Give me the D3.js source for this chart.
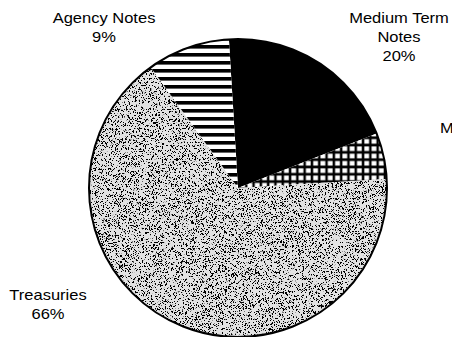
<!DOCTYPE html>
<html>
<head>
<meta charset="utf-8">
<script src="https://cdn.jsdelivr.net/npm/d3@7"></script>
<style>
  html, body { margin: 0; padding: 0; background: #fff; }
  svg { display: block; }
  text { font-family: "Liberation Sans", Arial, sans-serif; fill: #000; }
</style>
</head>
<body>
<svg id="chart" width="452" height="337"></svg>
<script>
// Portfolio composition by security type (percent of holdings)
const categories = ["Medium Term Notes", "M", "Treasuries", "Agency Notes"];
const shares = [20, 5, 66, 9];
const labelLines = [
  ["Medium Term", "Notes", "20%"],
  ["M"],
  ["Treasuries", "66%"],
  ["Agency Notes", "9%"]
];
const fills = ["solid", "grid", "grain", "stripes"];

const width = 452, height = 337;
const cx = 238, cy = 188, radius = 149;
const tilt = -3.5 * Math.PI / 180;

const svg = d3.select("#chart");
const defs = svg.append("defs");

// Cross-hatch: black grid with white squares
const grid = defs.append("pattern")
  .attr("id", "grid").attr("patternUnits", "userSpaceOnUse")
  .attr("width", 7.3).attr("height", 7.3);
grid.append("rect").attr("width", 7.3).attr("height", 7.3).attr("fill", "#000");
grid.append("rect").attr("x", 2.2).attr("y", 2.2).attr("width", 4.8).attr("height", 4.6).attr("fill", "#fff");

// Horizontal stripes
const stripes = defs.append("pattern")
  .attr("id", "stripes").attr("patternUnits", "userSpaceOnUse")
  .attr("width", 8).attr("height", 8).attr("y", 1);
stripes.append("rect").attr("width", 8).attr("height", 8).attr("fill", "#fff");
stripes.append("rect").attr("width", 8).attr("height", 3.6).attr("fill", "#000");

// Stippled grey: binarised turbulence dots over a pale base
const grain = defs.append("filter")
  .attr("id", "grain").attr("x", 0).attr("y", 0).attr("width", 1).attr("height", 1)
  .attr("filterUnits", "objectBoundingBox");
grain.append("feTurbulence")
  .attr("type", "fractalNoise").attr("baseFrequency", 2.3)
  .attr("numOctaves", 2).attr("seed", 11).attr("result", "noise");
grain.append("feColorMatrix")
  .attr("in", "noise").attr("type", "matrix")
  .attr("values", "0 0 0 0 0  0 0 0 0 0  0 0 0 0 0  25 0 0 0 -14.2")
  .attr("result", "dots");
grain.append("feComposite")
  .attr("in", "dots").attr("in2", "SourceGraphic").attr("operator", "in")
  .attr("result", "clipped");
const merge = grain.append("feMerge");
merge.append("feMergeNode").attr("in", "SourceGraphic");
merge.append("feMergeNode").attr("in", "clipped");

const pie = d3.pie().sort(null).value(d => d)
  .startAngle(tilt).endAngle(2 * Math.PI + tilt);
const arc = d3.arc().innerRadius(0).outerRadius(radius);

const g = svg.append("g").attr("transform", `translate(${cx},${cy})`);

const fillFor = k => k === "solid" ? "#000"
  : k === "grid" ? "url(#grid)"
  : k === "stripes" ? "url(#stripes)"
  : "#e2e2e2";

g.selectAll("path.slice")
  .data(pie(shares))
  .join("path")
  .attr("class", "slice")
  .attr("d", arc)
  .attr("fill", (d, i) => fillFor(fills[i]))
  .attr("filter", (d, i) => fills[i] === "grain" ? "url(#grain)" : null);

g.append("circle")
  .attr("r", radius)
  .attr("fill", "none")
  .attr("stroke", "#000")
  .attr("stroke-width", 2);

// Labels placed around the pie
const labelPos = [
  { x: 399, y: 23, anchor: "middle" },
  { x: 440, y: 133, anchor: "start" },
  { x: 48, y: 300, anchor: "middle" },
  { x: 104, y: 23, anchor: "middle" }
];
const lineGap = 19;
const stretch = 1.18;

categories.forEach((c, i) => {
  const p = labelPos[i];
  const t = svg.append("g")
    .attr("transform", `translate(${p.x},${p.y}) scale(${stretch},1)`);
  labelLines[i].forEach((ln, j) => {
    t.append("text")
      .attr("x", 0).attr("y", j * lineGap)
      .attr("text-anchor", p.anchor)
      .attr("font-size", 14)
      .text(ln);
  });
});
</script>
</body>
</html>
